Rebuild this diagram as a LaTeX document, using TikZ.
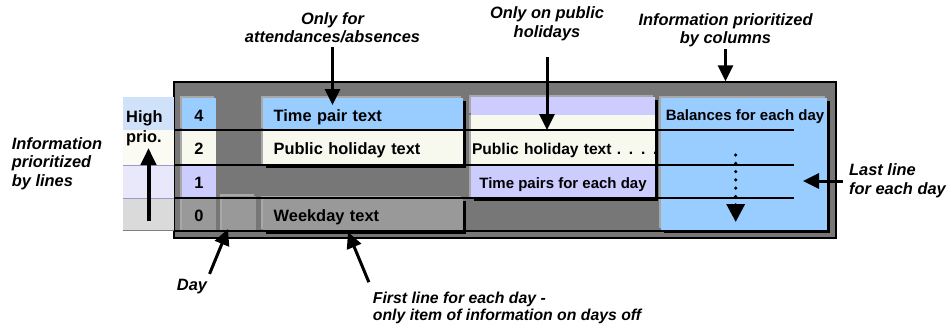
\documentclass[tikz,border=0pt]{standalone}
\usepackage{fontspec}
\setmainfont{Liberation Sans}
\usepackage{tikz}
\usetikzlibrary{positioning}
\usetikzlibrary{arrows.meta}
\usetikzlibrary{shadows}

\definecolor{panelgray}{HTML}{777777}
\definecolor{cellgray}{HTML}{999999}
\definecolor{edgegray}{HTML}{A8A8A8}
\definecolor{skyblue}{HTML}{99CCFF}
\definecolor{cream}{HTML}{F8F9EE}
\definecolor{lavender}{HTML}{CCCCFF}
\definecolor{prioblue}{HTML}{CFE2FA}
\definecolor{priocream}{HTML}{FBFBF3}
\definecolor{priolav}{HTML}{E8E8FA}
\definecolor{priogray}{HTML}{DADADA}
\definecolor{prioline}{HTML}{9A9AC8}

\begin{document}
\begin{tikzpicture}
      [x=1pt, y=-1pt, node distance=0pt,
       txt/.style={font=\bfseries\fontsize{16.4}{18.5}\selectfont, text height=14.5pt, text depth=0pt},
       lab/.style={font=\bfseries\itshape\fontsize{16.4}{18.5}\selectfont, inner sep=0pt},
       cell/.style={inner sep=0pt, outer sep=0pt, minimum width=#1, txt},
       textcell/.style={inner xsep=11pt, inner ysep=0pt, outer sep=0pt, text width=#1, align=left, txt},
       shade/.style={drop shadow={shadow xshift=3pt, shadow yshift=-3pt, opacity=1, fill=black}},
       hl/.style={general shadow={shadow xshift=-2pt, shadow yshift=2pt, fill=edgegray}},
       hlleft/.style={general shadow={shadow xshift=-2pt, fill=edgegray}},
       arr/.style={line width=3pt, -{Triangle[length=16pt,width=15pt]}},
       rowline/.style={line width=1.3pt}]
    \useasboundingbox (0,0) rectangle (947,324);

    % the dark panel
    \node[draw, line width=1.5pt, fill=panelgray, inner sep=0pt,
          minimum width=662pt, minimum height=156pt] (panel) at (505,160) {};

    % priority strip on the left
    \node[cell=51pt, minimum height=33pt, fill=prioblue] (p4) at (148.5,113.5) {};
    \node[cell=51pt, minimum height=35pt, fill=priocream, below=of p4] (p2) {};
    \node[cell=51pt, minimum height=33pt, fill=priolav, below=of p2] (p1) {};
    \node[cell=51pt, minimum height=32pt, fill=priogray, below=of p1] (p0) {};
    \draw[prioline] (p2.south west) -- (p2.south east) (p1.south west) -- (p1.south east);
    \draw[gray, line width=1pt] (p0.south west) -- (p0.south east);
    \node[inner sep=0pt, anchor=west, align=left,
          font=\bfseries\fontsize{16.4}{20}\selectfont] (high) at (126,128) {High\\prio.};
    \draw[line width=4pt, -{Triangle[length=17pt,width=15pt]}, shorten <=9pt, shorten >=18pt]
          (p0.south) -- (p2.north);

    % priority numbers and day
    \node[cell=34pt, minimum height=32pt, fill=skyblue, hl] (n4) at (199,114) {4};
    \node[cell=34pt, minimum height=35pt, fill=cream, hlleft, below=of n4] (n2) {2};
    \node[cell=34pt, minimum height=33pt, fill=lavender, hlleft, below=of n2] (n1) {1};
    \node[cell=34pt, minimum height=32pt, fill=cellgray, hlleft, below=of n1] (n0) {0};
    \node[cell=34pt, minimum height=36pt, fill=cellgray, hl] (daybox) at (239,214) {};

    % first column
    \node[textcell=178.3pt, minimum height=32pt, fill=skyblue, shade, hl] (timepair) at (362.85,114) {Time pair text};
    \node[textcell=178.3pt, minimum height=35pt, fill=cream, shade, hlleft, below=of timepair] (pubhol) {Public holiday text};
    \node[textcell=178.3pt, minimum height=33pt, fill=cellgray, shade, hl] (weekday) at (362.85,214.5) {Weekday text};

    % second column
    \node[cell=184pt, minimum height=18pt, fill=lavender, shade, hl] (c2top) at (563,106) {};
    \node[cell=184pt, minimum height=15pt, fill=cream, shade, hlleft, below=of c2top] (c2mid) {};
    \node[textcell=182pt, inner xsep=1pt, minimum height=35pt, fill=cream, shade, hlleft,
          below=of c2mid, font=\bfseries\fontsize{15.6}{18.5}\selectfont] (phtext) {\mbox{Public holiday text . . . .}};
    \node[cell=184pt, minimum height=33pt, fill=lavender, shade, hlleft, below=of phtext,
          font=\bfseries\fontsize{15}{18}\selectfont, text height=13.5pt] (tpday) {Time pairs for each day};

    % third column
    \node[cell=166pt, minimum height=132pt, fill=skyblue, shade, hl] (bal) at (744,164) {};
    \node[inner sep=0pt, font=\bfseries\fontsize{15}{18}\selectfont] (baltext) at (745,116.7) {Balances for each day};

    \foreach \y in {130,165,198,231}
      \draw[rowline] (174,\y) -- (794,\y);

    \coordinate (dotfrom) at (735.7,155);
    \coordinate (dotto) at (735.7,222);
    \draw[line width=3.5pt, dash pattern=on 0pt off 8.3pt, line cap=round,
          -{Triangle[length=18pt,width=18pt]}] (dotfrom) -- (dotto);

    % labels
    \node[lab, align=center] (onlyfor) at (332.5,27.5) {Only for\\attendances/absences};
    \node[lab, align=center] (onlypub) at (547,24) {Only on public\\holidays};
    \node[lab, align=center] (bycols) at (725.5,30.4) {Information prioritized\\by columns};
    \node[lab, align=left, anchor=west] (bylines) at (11.7,163.3) {Information\\prioritized\\by lines};
    \node[lab, align=left, anchor=west] (lastline) at (849,181) {Last line\\for each day};
    \node[lab] (day) at (192,287) {Day};
    \node[lab, align=left, anchor=west, font=\bfseries\itshape\fontsize{15.8}{17}\selectfont]
          (firstline) at (372.7,307.5) {First line for each day -\\only item of information on days off};

    \coordinate (lasttip) at (803,181);
    \coordinate (daytip) at (228,229);
    \coordinate (firsttip) at (348,232);

    \draw[arr, shorten <=3.5pt, shorten >=-7pt] (onlyfor.south) -- (onlyfor.south |- timepair.north);
    \draw[arr, shorten <=16pt] (onlypub.south) -- (onlypub.south |- phtext.north);
    \draw[arr, shorten <=2pt] (bycols.south) -- (bycols.south |- panel.north);
    \draw[arr, shorten <=6pt] (lastline.west) -- (lasttip);
    \draw[arr, shorten <=6pt] (day.north east) -- (daytip);
    \draw[arr, shorten <=10pt] (firstline.north west) -- (firsttip);
\end{tikzpicture}
\end{document}
